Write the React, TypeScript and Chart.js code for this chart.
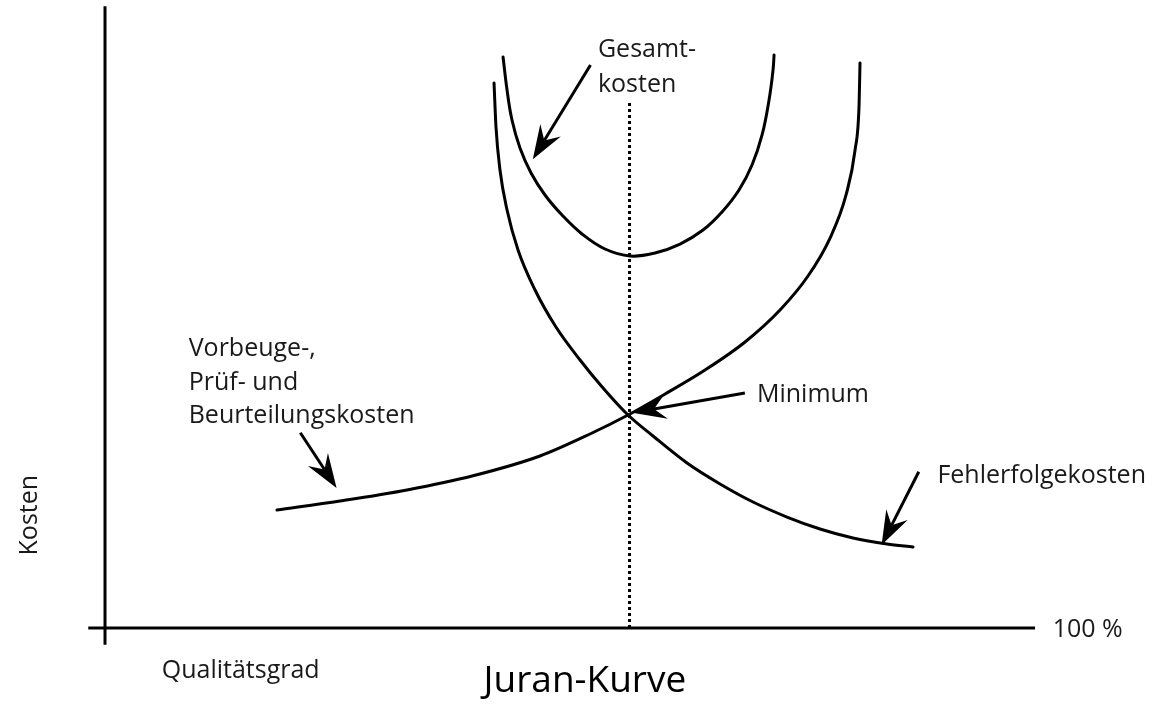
import React, { useEffect, useRef } from "react";
import { Chart, registerables } from "chart.js";

Chart.register(...registerables);

// Qualitätsgrad (x, 0..100 %) vs. Kosten (y, arbitrary units)
const vorbeugeX = [18.49, 25.27, 32.47, 39.57, 46.77, 52.15, 56.24, 60.22, 64.52, 68.82, 72.58, 75.59, 77.96, 79.68, 80.65, 81.08, 81.18];
const vorbeugeY = [19.03, 20.48, 22.26, 24.55, 27.74, 31.29, 34.35, 37.74, 41.61, 46.13, 51.29, 56.77, 62.90, 69.84, 77.10, 84.35, 91.13];

const fehlerX = [41.83, 42.04, 42.47, 43.23, 44.41, 46.24, 48.49, 51.08, 53.55, 56.24, 58.92, 62.58, 66.13, 69.68, 73.33, 76.88, 80.43, 84.09, 86.88];
const fehlerY = [87.90, 80.81, 73.87, 67.42, 60.97, 54.52, 48.55, 43.23, 38.71, 34.35, 30.97, 26.61, 23.23, 20.32, 17.90, 15.97, 14.52, 13.55, 13.06];

const gesamtX = [42.80, 43.23, 43.76, 44.62, 45.81, 47.31, 49.14, 51.29, 53.76, 56.45, 59.14, 61.83, 64.30, 66.34, 68.17, 69.57, 70.65, 71.40, 71.83, 71.94];
const gesamtY = [92.10, 86.77, 81.94, 77.42, 73.39, 69.84, 66.61, 63.55, 61.13, 60.00, 60.48, 61.93, 64.19, 67.10, 70.65, 74.68, 79.52, 85.16, 90.00, 92.42];

const optimumX = 56.4;
const optimumTopY = 84.7;

const xAxisRange = [-1.8, 100];
const yAxisRange = [-2.7, 100.3];

// annotation arrows: [tailX, tailY, tipX, tipY]
const arrows = [
  [52.2, 90.8, 46.0, 75.6],
  [21.0, 31.5, 24.9, 22.6],
  [68.8, 37.9, 56.7, 34.7],
  [87.5, 25.2, 83.5, 13.4],
];

// labels: [text, x, y]
const labels: [string, number, number][] = [
  ["Gesamt-", 53.0, 92.1],
  ["kosten", 53.0, 86.5],
  ["Vorbeuge-,", 9.0, 43.9],
  ["Prüf- und", 9.0, 38.4],
  ["Beurteilungskosten", 9.0, 33.1],
  ["Minimum", 70.1, 36.5],
  ["Fehlerfolgekosten", 89.5, 23.4],
  ["100 %", 101.9, -1.45],
  ["Qualitätsgrad", 6.1, -8.1],
];
const yTitle: [string, number, number] = ["Kosten", -7.3, 18.2];
const caption: [string, number, number] = ["Juran-Kurve", 51.6, -10.3];

const toPts = (xs: number[], ys: number[]) => xs.map((x, i) => ({ x, y: ys[i] }));

const overlay = {
  id: "overlay",
  afterDatasetsDraw(chart: any) {
    const { ctx, scales } = chart;
    const sx = scales.x, sy = scales.y;
    ctx.save();
    ctx.strokeStyle = "#000";
    ctx.fillStyle = "#000";
    arrows.forEach(([tx, ty, hx, hy]) => {
      const x0 = sx.getPixelForValue(tx), y0 = sy.getPixelForValue(ty);
      const x1 = sx.getPixelForValue(hx), y1 = sy.getPixelForValue(hy);
      const dx = x0 - x1, dy = y0 - y1;
      const len = Math.hypot(dx, dy);
      const ux = dx / len, uy = dy / len;
      const px = -uy, py = ux;
      const L = 34, W = 12, N = 22;
      ctx.lineWidth = 3;
      ctx.beginPath();
      ctx.moveTo(x0, y0);
      ctx.lineTo(x1 + ux * N, y1 + uy * N);
      ctx.stroke();
      ctx.beginPath();
      ctx.moveTo(x1, y1);
      ctx.lineTo(x1 + ux * L + px * W, y1 + uy * L + py * W);
      ctx.lineTo(x1 + ux * N, y1 + uy * N);
      ctx.lineTo(x1 + ux * L - px * W, y1 + uy * L - py * W);
      ctx.closePath();
      ctx.fill();
    });
    ctx.fillStyle = "#1a1a1a";
    ctx.textBaseline = "alphabetic";
    ctx.textAlign = "left";
    ctx.font = "25px 'Open Sans'";
    labels.forEach(([t, x, y]) => {
      ctx.fillText(t, sx.getPixelForValue(x), sy.getPixelForValue(y));
    });
    ctx.save();
    ctx.translate(sx.getPixelForValue(yTitle[1]), sy.getPixelForValue(yTitle[2]));
    ctx.rotate(-Math.PI / 2);
    ctx.textAlign = "center";
    ctx.fillText(yTitle[0], 0, 0);
    ctx.restore();
    ctx.textAlign = "center";
    ctx.fillStyle = "#000";
    ctx.font = "37px 'Open Sans'";
    ctx.fillText(caption[0], sx.getPixelForValue(caption[1]), sy.getPixelForValue(caption[2]));
    ctx.restore();
  },
};

export default function App() {
  const ref = useRef<HTMLCanvasElement | null>(null);
  useEffect(() => {
    if (!ref.current) return;
    const line = (data: any[], extra: any = {}) => ({
      data,
      showLine: true,
      borderColor: "#000",
      borderWidth: 3,
      pointRadius: 0,
      cubicInterpolationMode: "monotone",
      borderCapStyle: "round",
      fill: false,
      ...extra,
    });
    const straight = { cubicInterpolationMode: "default", tension: 0, borderCapStyle: "butt" };
    const chart = new Chart(ref.current, {
      type: "scatter",
      data: {
        datasets: [
          line([{ x: xAxisRange[0], y: 0 }, { x: xAxisRange[1], y: 0 }], straight),
          line([{ x: 0, y: yAxisRange[0] }, { x: 0, y: yAxisRange[1] }], straight),
          line([{ x: optimumX, y: 0 }, { x: optimumX, y: optimumTopY }], { ...straight, borderDash: [3, 3] }),
          line(toPts(vorbeugeX, vorbeugeY)),
          line(toPts(fehlerX, fehlerY)),
          line(toPts(gesamtX, gesamtY), { cubicInterpolationMode: "default", tension: 0.4 }),
        ],
      },
      options: {
        responsive: false,
        animation: false,
        layout: { padding: 0 },
        plugins: { legend: { display: false }, tooltip: { enabled: false }, title: { display: false } },
        scales: {
          x: { type: "linear", min: -11.29, max: 114.62, display: false },
          y: { type: "linear", min: -13.87, max: 101.29, display: false },
        },
      },
      plugins: [overlay],
    });
    return () => chart.destroy();
  }, []);
  return (
    <canvas
      ref={ref}
      width={1171}
      height={714}
      style={{ position: "absolute", left: 0, top: 0, background: "#fff" }}
    />
  );
}
